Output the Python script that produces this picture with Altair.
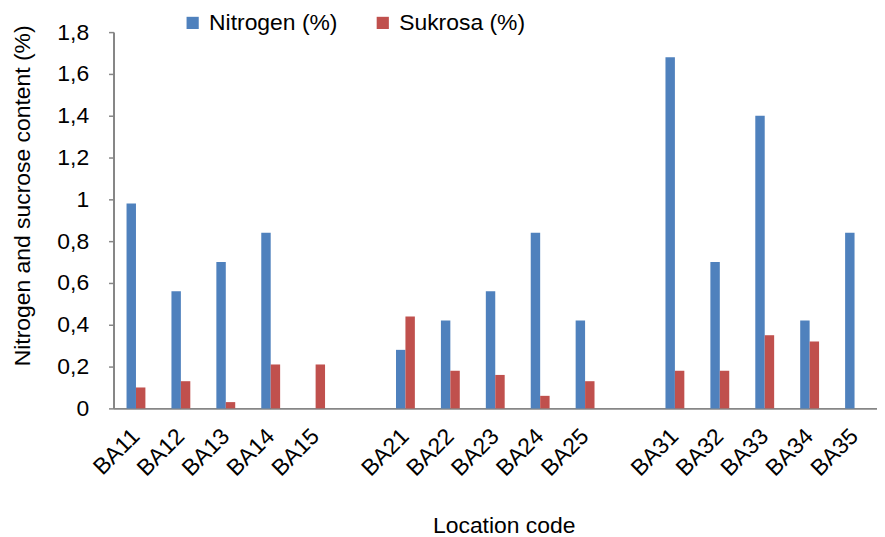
import altair as alt
import pandas as pd

categories = ["BA11", "BA12", "BA13", "BA14", "BA15",
              "BA21", "BA22", "BA23", "BA24", "BA25",
              "BA31", "BA32", "BA33", "BA34", "BA35"]
nitrogen = [0.98, 0.56, 0.70, 0.84, 0.0,
            0.28, 0.42, 0.56, 0.84, 0.42,
            1.68, 0.70, 1.40, 0.42, 0.84]
sukrosa = [0.10, 0.13, 0.03, 0.21, 0.21,
           0.44, 0.18, 0.16, 0.06, 0.13,
           0.18, 0.18, 0.35, 0.32, 0.0]
series_names = ["Nitrogen (%)", "Sukrosa (%)"]
colors = ["#4F81BD", "#C0504D"]
y_ticks = [0, 0.2, 0.4, 0.6, 0.8, 1.0, 1.2, 1.4, 1.6, 1.8]

# x domain with two empty slots separating the groups
domain = categories[:5] + ["_gap1"] + categories[5:10] + ["_gap2"] + categories[10:]

rows = []
for c, n, s in zip(categories, nitrogen, sukrosa):
    rows.append({"loc": c, "series": series_names[0], "value": n})
    rows.append({"loc": c, "series": series_names[1], "value": s})
df = pd.DataFrame(rows)

FONT = "Liberation Sans"
FS = 23

chart = alt.Chart(df).mark_bar().encode(
    x=alt.X("loc:N",
            scale=alt.Scale(domain=domain, paddingInner=0.58, paddingOuter=0.29),
            axis=alt.Axis(title="Location code", labelAngle=-45, labelAlign="right",
                          labelBaseline="middle", ticks=False, labelPadding=24,
                          labelExpr="indexof(datum.value, '_') == 0 ? '' : datum.value",
                          labelFontSize=FS, titleFontSize=FS, titleFontWeight="normal",
                          labelColor="black", titleColor="black",
                          domainColor="#868686", domainWidth=2, titlePadding=34,
                          titleX=392,
                          labelFont=FONT, titleFont=FONT)),
    xOffset=alt.XOffset("series:N", sort=series_names,
                        scale=alt.Scale(paddingInner=0, paddingOuter=0)),
    y=alt.Y("value:Q",
            scale=alt.Scale(domain=[0, 1.8], nice=False),
            axis=alt.Axis(title="Nitrogen and sucrose content (%)", values=y_ticks,
                          labelExpr="replace(format(datum.value, '~g'), '.', ',')",
                          grid=False, tickSize=5, tickColor="#868686", tickWidth=1.5,
                          domainColor="#868686", domainWidth=2,
                          labelFontSize=FS, titleFontSize=FS, titleFontWeight="normal",
                          labelColor="black", titleColor="black", labelPadding=20,
                          titlePadding=22, titleY=164,
                          labelFont=FONT, titleFont=FONT)),
    color=alt.Color("series:N", sort=series_names,
                    scale=alt.Scale(domain=series_names, range=colors),
                    legend=alt.Legend(title=None, orient="none", direction="horizontal",
                                      legendX=68, legendY=-21, symbolType="square",
                                      symbolSize=150, symbolStrokeWidth=0,
                                      labelFontSize=FS, labelFont=FONT, labelColor="black",
                                      columnPadding=33, labelOffset=5)),
).properties(
    width=767, height=378,
    padding={"left": 4, "top": 2, "right": 0, "bottom": 0}
).configure_view(stroke=None)

chart.save("out.html", embed_options={"renderer": "svg", "actions": False})
